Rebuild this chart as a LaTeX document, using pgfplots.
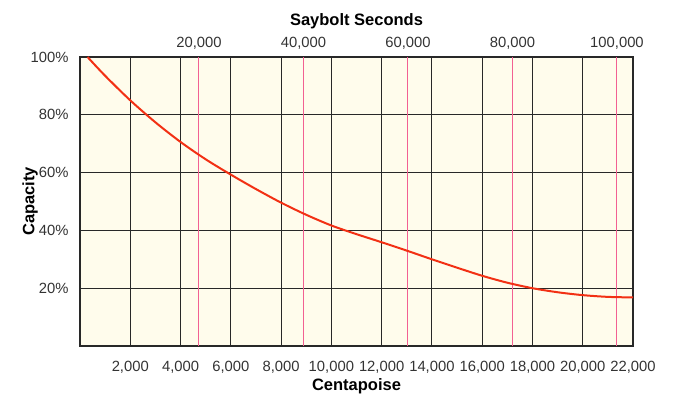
\documentclass[border=0pt]{standalone}
\usepackage{pgfplots}
\pgfplotsset{compat=1.18}
\usepackage{fontspec}
\setmainfont{Liberation Sans}
\definecolor{cream}{RGB}{255,252,236}
\definecolor{pinkline}{RGB}{242,96,146}
\definecolor{curvecol}{RGB}{242,48,20}
\definecolor{gridcol}{RGB}{40,40,40}
\begin{document}
\begin{tikzpicture}
\path[use as bounding box] (-80pt,-48pt) rectangle (598pt,346pt);
\begin{axis}[
  at={(0pt,0pt)}, anchor=south west,
  scale only axis, width=553pt, height=289pt,
  xmin=0, xmax=22000, ymin=0, ymax=100,
  scaled x ticks=false, scaled y ticks=false,
  axis background/.style={fill=cream},
  xtick={2000,4000,6000,8000,10000,12000,14000,16000,18000,20000,22000},
  xticklabels={{2,000},{4,000},{6,000},{8,000},{10,000},{12,000},{14,000},{16,000},{18,000},{20,000},{22,000}},
  ytick={20,40,60,80,100},
  yticklabels={20\%,40\%,60\%,80\%,100\%},
  grid=major,
  major grid style={gridcol, line width=1.1pt},
  extra x ticks={4734,8891,13048,17205,21362},
  extra x tick labels={},
  extra x tick style={grid=major, major grid style={pinkline, line width=1pt}},
  major tick length=0pt,
  axis line style={gridcol, line width=1.5pt},
  tick label style={font=\fontsize{14.8}{15}\selectfont, text=black!80},
  xticklabel style={yshift=-12pt},
  yticklabel style={xshift=-8pt},
  xlabel={Centapoise},
  ylabel={Capacity},
  label style={font=\fontsize{16.5}{17}\selectfont\bfseries},
  xlabel style={yshift=2pt},
  ylabel style={yshift=-14pt},
  /pgf/number format/assume math mode=true,
]
\addplot[curvecol, line width=2pt, smooth] coordinates {
(300,100) (1000,93.5) (2000,85.0) (3000,77.4) (4000,70.6) (5000,64.6)
(6000,59.3) (7000,54.3) (8000,49.6) (9000,45.4) (10000,41.7) (11000,38.7)
(12000,35.9) (13000,33.0) (14000,30.0) (15000,27.1) (16000,24.3) (17000,21.9)
(18000,20.0) (19000,18.6) (20000,17.6) (21000,17.0) (22000,16.8)
};
\end{axis}
\begin{axis}[
  at={(0pt,0pt)}, anchor=south west,
  scale only axis, width=553pt, height=289pt,
  xmin=-2776, xmax=103066, ymin=0, ymax=1,
  scaled x ticks=false,
  axis x line*=top, axis y line=none,
  axis line style={draw=none},
  xtick={20000,40000,60000,80000,100000},
  xticklabels={{20,000},{40,000},{60,000},{80,000},{100,000}},
  major tick length=0pt,
  tick label style={font=\fontsize{14.8}{15}\selectfont, text=black!80},
  xticklabel style={yshift=4pt},
  xlabel={Saybolt Seconds},
  label style={font=\fontsize{16.5}{17}\selectfont\bfseries},
  xlabel style={yshift=1pt},
  /pgf/number format/assume math mode=true,
]
\addplot[draw=none] coordinates {(0,0)};
\end{axis}
\end{tikzpicture}
\end{document}
